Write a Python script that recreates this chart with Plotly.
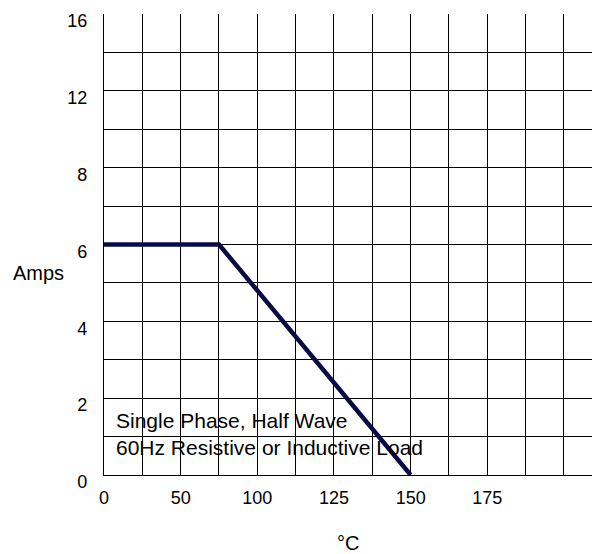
import numpy as np
import plotly.graph_objects as go

# Derating curve data (°C vs Amps)
temp_c = [0, 75, 150]
amps = [6, 6, 0]

# Axis tick values (the datasheet grid is non-uniform)
x_tick_values = [0, 50, 100, 125, 150, 175]
x_tick_grid = [0, 2, 4, 6, 8, 10]
y_tick_values = [0, 2, 4, 6, 8, 12, 16]
y_tick_grid = [0, 2, 4, 6, 8, 10, 12]

note_lines = ["Single Phase, Half Wave", "60Hz Resistive or Inductive Load"]

# map values onto the grid scale
xg = np.interp(temp_c, x_tick_values, x_tick_grid)
yg = np.interp(amps, y_tick_values, y_tick_grid)

x_grid_lines = list(range(13))
y_grid_lines = list(range(13))
x_text = [str(x_tick_values[x_tick_grid.index(g)]) if g in x_tick_grid else "" for g in x_grid_lines]
y_text = [str(y_tick_values[y_tick_grid.index(g)]) if g in y_tick_grid else "" for g in y_grid_lines]

FONT = "Liberation Sans, Arial, sans-serif"

fig = go.Figure()
fig.add_trace(go.Scatter(
    x=xg, y=yg, mode="lines",
    line=dict(color="#0a0a44", width=4.5),
    hoverinfo="skip", showlegend=False,
))

fig.update_layout(
    width=592, height=546,
    margin=dict(l=96, r=0, t=6, b=79),
    paper_bgcolor="white", plot_bgcolor="white",
    font=dict(family=FONT, color="black"),
    showlegend=False,
    xaxis=dict(
        range=[0, 12.94], tickmode="array", tickvals=x_grid_lines, ticktext=x_text,
        showgrid=True, gridcolor="black", gridwidth=1.2, zeroline=False,
        showline=True, linecolor="black", linewidth=1.2,
        ticks="", tickfont=dict(size=18, family=FONT), ticklabelstandoff=6,
        fixedrange=True,
    ),
    yaxis=dict(
        range=[0, 12], tickmode="array", tickvals=y_grid_lines, ticktext=y_text,
        showgrid=True, gridcolor="black", gridwidth=1.2, zeroline=False,
        showline=True, linecolor="black", linewidth=1.2,
        ticks="", tickfont=dict(size=18, family=FONT), ticklabelstandoff=12,
        ticklabelshift=7, fixedrange=True,
    ),
    annotations=[
        dict(text="Amps", xref="paper", yref="paper", x=-0.077, y=0.438,
             xanchor="right", yanchor="middle", showarrow=False,
             font=dict(size=20, family=FONT, color="black")),
        dict(text="°C", xref="paper", yref="paper", x=0.492, y=-0.147,
             xanchor="center", yanchor="middle", showarrow=False,
             font=dict(size=20, family=FONT, color="black")),
        dict(text="<br>".join(note_lines), xref="x", yref="y", x=0.26, y=1.08,
             xanchor="left", yanchor="middle", align="left", showarrow=False,
             font=dict(size=21, family=FONT, color="black")),
    ],
)

fig.write_html("out.html")
